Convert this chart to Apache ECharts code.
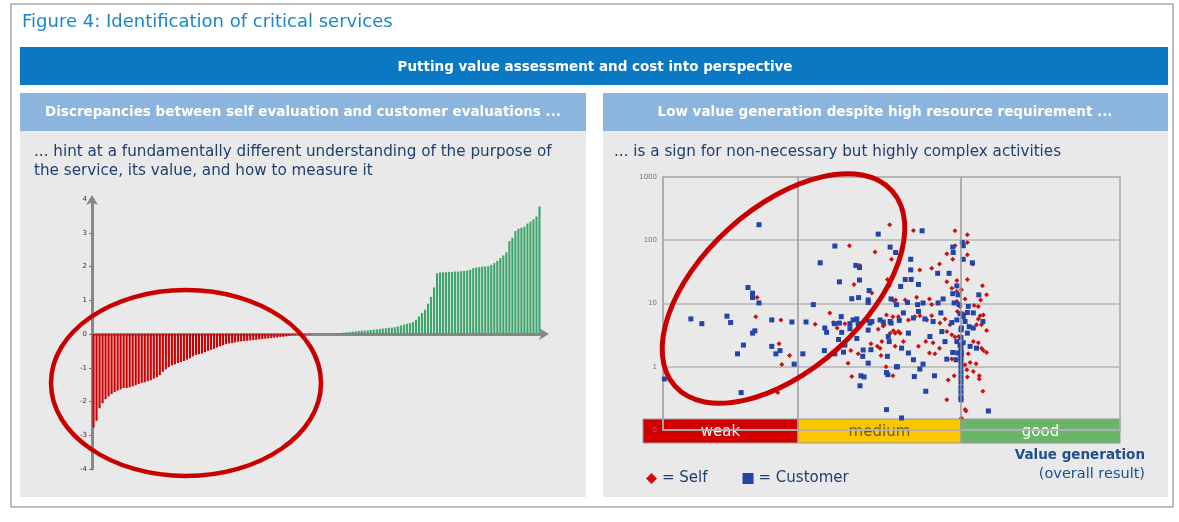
<!DOCTYPE html>
<html>
<head>
<meta charset="utf-8">
<script src="https://cdn.jsdelivr.net/npm/echarts@6/dist/echarts.min.js"></script>
<style>
html, body { margin: 0; padding: 0; background: #fff; }
#chart { width: 1179px; height: 522px; }
</style>
</head>
<body>
<div id="chart"></div>
<script>
// discrepancy (self minus customer) per service, sorted
var discrepancy = [
	-2.77, -2.57, -2.2, -2.05, -1.93, -1.85, -1.78, -1.72, -1.68, -1.64,
	-1.6, -1.6, -1.58, -1.55, -1.52, -1.48, -1.45, -1.43, -1.4, -1.37,
	-1.32, -1.28, -1.22, -1.12, -1.05, -0.98, -0.93, -0.9, -0.86, -0.83,
	-0.8, -0.76, -0.72, -0.66, -0.62, -0.6, -0.58, -0.54, -0.5, -0.47,
	-0.44, -0.4, -0.36, -0.33, -0.3, -0.28, -0.27, -0.25, -0.23, -0.22,
	-0.21, -0.2, -0.19, -0.18, -0.17, -0.16, -0.15, -0.14, -0.13, -0.12,
	-0.11, -0.1, -0.09, -0.08, -0.07, -0.05, -0.04,
	-0.03, -0.03, -0.02, -0.02, -0.01, -0.01, 0, 0, 0, 0.01, 0.01, 0.01, 0.02, 0.02, 0.03, 0.03,
	0.04, 0.05, 0.06, 0.07, 0.08, 0.09, 0.1, 0.1, 0.11, 0.12,
	0.13, 0.14, 0.15, 0.16, 0.17, 0.18, 0.19, 0.2, 0.22, 0.25,
	0.28, 0.3, 0.32, 0.35, 0.42, 0.52, 0.62, 0.72, 0.9, 1.1,
	1.38, 1.8, 1.82, 1.83, 1.83, 1.84, 1.84, 1.85, 1.85, 1.86,
	1.87, 1.88, 1.9, 1.95, 1.97, 1.98, 2.0, 2.0, 2.01, 2.05,
	2.1, 2.17, 2.25, 2.33, 2.42, 2.75, 2.85, 3.05, 3.12, 3.15,
	3.18, 3.27, 3.33, 3.4, 3.48, 3.78
];
var discrepancyTicks = ['-4', '-3', '-2', '-1', '0', '1', '2', '3', '4'];

// value generation (0-100) vs resource requirement (log)
var selfPoints = [
	[20.6,12.4],[20.3,6.2],[25.8,5.5],[25.4,2.3],[27.7,1.5],[26.0,1.09],[25.1,0.39],
	[49.6,176],[40.8,82],[46.4,65],[50.0,50],[43.1,40],[41.8,20],[49.1,24],[49.5,19],[45.7,14.6],
	[50.9,11.4],[36.5,7.1],[33.3,4.7],[37.3,5.0],[39.8,4.8],[38.1,4.1],[47.1,3.9],[48.4,4.6],
	[50.4,3.7],[51.5,3.6],[47.9,2.5],[46.9,2.1],[47.5,1.97],[45.5,2.3],[41.1,1.8],[42.7,1.6],
	[47.7,1.5],[40.5,1.14],[48.8,1.0],[41.3,0.7],[50.3,0.72],
	[54.8,143],[63.9,141],[66.6,122],[66.6,92],[63.9,82],[62.1,61],[63.4,50],[66.6,59],[67.8,42],
	[58.8,36],[60.5,42],[56.2,34],[62.1,22],[64.3,23],[66.6,24],[63.2,17.5],[65.3,16.5],[64.3,15.5],
	[69.9,19],[70.8,13.7],[69.5,11.4],[66.1,11.8],[64.3,10.8],[55.5,12.6],[58.3,11.8],[58.8,9.6],
	[53.0,11.4],[50.4,11.2],[65.0,9.0],[68.1,9.3],[69.0,9.0],[64.4,7.5],[65.7,6.9],[69.4,6.4],
	[70.1,6.6],[48.9,6.6],[50.3,6.2],[51.5,6.2],[55.1,6.2],[56.2,6.4],[58.8,6.4],[53.7,5.5],
	[57.7,5.5],[61.7,5.7],[60.6,4.9],[62.8,4.6],[69.0,5.7],[68.6,4.6],[69.7,4.6],[70.8,3.75],
	[48.2,4.4],[49.7,3.4],[50.8,3.4],[51.9,3.4],[62.1,3.6],[63.2,3.2],[63.9,2.95],[64.7,3.0],
	[67.9,2.5],[69.0,2.4],[69.7,1.97],[70.8,1.68],[70.1,1.8],[59.1,2.4],[57.5,2.5],[55.9,2.1],
	[60.5,1.97],[52.6,2.5],[50.8,2.1],[58.3,1.65],[59.5,1.6],[66.8,1.6],[67.2,1.17],[68.5,1.12],
	[63.2,1.32],[66.1,1.08],[66.5,0.9],[67.9,0.84],[69.2,0.72],[69.2,0.64],[63.7,0.72],[62.4,0.62],
	[66.6,0.69],[70.0,0.41],[62.1,0.3],[66.1,0.21],[66.3,0.2],[65.3,0.155]
];
var customerPoints = [
	[21.0,176],[18.6,17.9],[19.6,14.6],[19.6,12.4],[21.0,10.2],[6.1,5.7],[8.5,4.8],[14.0,6.3],
	[14.8,5.0],[20.1,3.7],[19.6,3.4],[17.6,2.2],[16.3,1.6],[23.8,5.5],[28.2,5.1],[23.8,2.1],
	[25.6,1.8],[24.7,1.6],[28.7,1.1],[0.3,0.64],[17.1,0.39],
	[47.1,125],[49.7,78],[50.9,64],[37.6,81],[34.4,44],[42.2,40],[43.0,37],[38.6,22],[43.0,23.5],
	[45.1,16],[41.3,11.9],[42.8,12.4],[44.9,11.4],[44.9,10.4],[49.9,11.8],[51.1,9.6],[32.9,9.6],
	[31.3,5.1],[35.4,4.1],[35.8,3.5],[39.0,6.2],[37.5,4.8],[38.6,4.9],[39.1,3.5],[40.9,4.8],
	[41.6,5.5],[42.4,5.7],[42.7,4.8],[40.9,4.0],[44.6,5.5],[45.3,4.9],[44.9,3.8],[45.7,5.2],
	[47.5,5.5],[48.2,5.1],[49.9,4.9],[51.7,5.4],[38.4,2.7],[39.8,2.2],[39.5,1.7],[37.6,1.6],
	[35.3,1.8],[30.6,1.6],[42.4,2.8],[43.8,1.84],[45.5,1.86],[43.7,1.46],[44.9,1.14],[49.3,3.0],
	[49.5,2.5],[49.1,1.46],[51.1,1.0],[48.9,0.81],[49.2,0.75],[43.3,0.72],[44.0,0.69],[43.1,0.5],
	[48.9,0.21],
	[56.7,141],[65.5,92],[65.7,82],[63.4,78],[63.5,64],[65.7,50],[67.7,44],[54.2,50],[54.2,34],
	[54.3,24],[53.0,24],[55.9,20],[52.0,18.6],[60.1,30],[62.6,30],[64.3,19],[63.4,14.3],[64.6,13.7],
	[69.1,13.7],[61.3,11.8],[60.2,10.2],[56.9,10.2],[55.7,9.6],[53.5,10.4],[63.7,10.2],[64.8,9.6],
	[66.8,9.0],[55.9,7.5],[52.6,7.1],[54.8,5.9],[57.3,5.7],[59.1,5.2],[60.8,7.1],[63.2,5.0],
	[64.3,5.5],[65.0,6.9],[65.7,6.2],[66.6,7.2],[67.9,7.1],[66.1,5.2],[67.0,4.3],[65.3,4.1],
	[66.6,3.4],[67.9,4.1],[70.0,5.2],[49.7,5.2],[53.7,3.4],[58.4,3.0],[61.0,3.6],[61.7,2.5],
	[64.3,2.5],[65.0,2.2],[65.7,2.4],[67.2,2.1],[68.6,1.97],[64.5,1.65],[65.3,1.65],[52.2,1.97],
	[53.7,1.65],[54.8,1.29],[56.9,1.1],[62.1,1.32],[63.4,1.68],[64.1,1.29],
	[65.2,1.2],[65.2,1.0],[65.2,0.83],[65.2,0.69],[65.2,0.58],[65.2,0.48],[65.2,0.4],[65.2,0.33],[65.2,0.3],
	[65.2,3.85],[65.2,2.9],[65.2,2.2],[65.2,1.86],[65.2,1.55],[65.2,1.4],
	[51.3,1.0],[56.2,0.92],[55.0,0.7],[59.4,0.72],[57.5,0.41],[71.2,0.2],[52.2,0.155]
];

// value generation bands
var bandNames = ['weak', 'medium', 'good'];
var bandFrom = [-4.4, 29.5, 65.2];
var bandTo = [29.5, 65.2, 100];
var bandBoundaries = [29.5, 65.2];

var bandColors = ['#d00000', '#fbc800', '#6ab56a'];
var bandTextColors = ['#ffffff', '#6b5a10', '#ffffff'];
var FONT = '"DejaVu Sans", Verdana, sans-serif';
var NAVY = '#1f3f6e';

var chart = echarts.init(document.getElementById('chart'));

function txt(x, y, text, size, color, opts) {
	opts = opts || {};
	var align = opts.align || 'left';
	return {
		type: 'text', x: x, y: y, z: 50,
		style: {
			text: text,
			fill: color,
			font: (opts.bold ? 'bold ' : '') + size + 'px ' + FONT,
			align: align, textAlign: align,
			verticalAlign: 'middle', textVerticalAlign: 'middle'
		}
	};
}

function box(x, y, w, h, fill, stroke) {
	return {
		type: 'rect', z: -20,
		shape: { x: x, y: y, width: w, height: h },
		style: { fill: fill, stroke: stroke || null, lineWidth: stroke ? 1.5 : 0 }
	};
}

var bandData = bandNames.map(function (n, i) {
	return [bandFrom[i], bandTo[i], i];
});

var option = {
	animation: false,
	backgroundColor: '#ffffff',
	graphic: [
		box(11, 4, 1162, 503, '#ffffff', '#a8a8a8'),
		box(20, 47, 1148, 38, '#0a78c2'),
		box(20, 93, 566, 38, '#8cb5de'),
		box(603, 93, 565, 38, '#8cb5de'),
		box(20, 131, 566, 366, '#e9e9e9'),
		box(603, 131, 565, 366, '#e9e9e9'),
		txt(22, 22, 'Figure 4: Identification of critical services', 18, '#1a86c7'),
		txt(595, 67, 'Putting value assessment and cost into perspective', 13.5, '#ffffff', { bold: true, align: 'center' }),
		txt(303, 112, 'Discrepancies between self evaluation and customer evaluations ...', 13.5, '#ffffff', { bold: true, align: 'center' }),
		txt(885, 112, 'Low value generation despite high resource requirement ...', 13.5, '#ffffff', { bold: true, align: 'center' }),
		txt(34, 152, '... hint at a fundamentally different understanding of the purpose of', 15.2, NAVY),
		txt(34, 171, 'the service, its value, and how to measure it', 15.2, NAVY),
		txt(614, 152, '... is a sign for non-necessary but highly complex activities', 15.2, NAVY),
		txt(1145, 455, 'Value generation', 13.5, '#1f4e8c', { bold: true, align: 'right' }),
		txt(1145, 474, '(overall result)', 14.5, '#1f4e8c', { align: 'right' }),
		{
			type: 'ellipse', x: 186, y: 383, z: 60,
			shape: { cx: 0, cy: 0, rx: 135, ry: 93 },
			style: { fill: null, stroke: '#c80000', lineWidth: 4.5 }
		},
		{
			type: 'ellipse', x: 783.5, y: 288.5, z: 60, rotation: 0.733,
			shape: { cx: 0, cy: 0, rx: 146, ry: 81 },
			style: { fill: null, stroke: '#c80000', lineWidth: 5 }
		}
	],
	legend: {
		data: [
			{ name: 'Self', icon: 'diamond' },
			{ name: 'Customer', icon: 'rect' }
		],
		left: 641, top: 466,
		itemWidth: 11, itemHeight: 11, itemGap: 35,
		formatter: '= {name}',
		textStyle: { color: NAVY, fontSize: 15, fontFamily: FONT }
	},
	grid: [
		{ left: 92, top: 199, width: 449, height: 270 },
		{ left: 663, top: 177, width: 457, height: 253, show: true, borderColor: '#aaaaaa', borderWidth: 1.5 },
		{ left: 643, top: 419, width: 477, height: 24 }
	],
	xAxis: [
		{
			gridIndex: 0, type: 'category',
			data: discrepancy.map(function (v, i) { return 'S' + (i + 1); }),
			axisLine: { onZero: true, symbol: ['none', 'arrow'], symbolSize: [9, 10], symbolOffset: [0, 8], lineStyle: { color: '#888888', width: 3 } },
			axisTick: { show: false }, axisLabel: { show: false }, splitLine: { show: false }
		},
		{
			gridIndex: 1, type: 'value', min: 0, max: 100,
			axisLine: { show: false }, axisTick: { show: false }, axisLabel: { show: false }, splitLine: { show: false }
		},
		{
			gridIndex: 2, type: 'value', min: -4.4, max: 100, show: false
		}
	],
	yAxis: [
		{
			gridIndex: 0, type: 'value', min: -4, max: 4, interval: 1,
			axisLine: { show: true, symbol: ['none', 'arrow'], symbolSize: [9, 10], symbolOffset: [0, 4], lineStyle: { color: '#888888', width: 3 } },
			axisTick: { show: true, length: 3, lineStyle: { color: '#777777' } },
			axisLabel: {
				fontSize: 7, color: '#333333', margin: 5, fontFamily: FONT,
				formatter: function (v) { return discrepancyTicks[v + 4]; }
			},
			splitLine: { show: false }
		},
		{
			gridIndex: 1, type: 'log', logBase: 10, min: 0.1, max: 1000,
			axisLine: { show: true, lineStyle: { color: '#aaaaaa', width: 1.5 } },
			axisTick: { show: false },
			axisLabel: {
				fontSize: 7, color: '#777777', margin: 6, fontFamily: FONT,
				formatter: function (v) { return v < 1 ? '0' : String(v); }
			},
			splitLine: { show: true, lineStyle: { color: '#b4b4b4', width: 1.5 } }
		},
		{
			gridIndex: 2, type: 'value', min: 0, max: 1, show: false
		}
	],
	series: [
		{
			name: 'Discrepancy', type: 'bar',
			xAxisIndex: 0, yAxisIndex: 0,
			barCategoryGap: '30%',
			data: discrepancy,
			itemStyle: {
				color: function (p) { return p.value < 0 ? '#cc0000' : '#3da56b'; }
			}
		},
		{
			name: 'Bands', type: 'custom',
			xAxisIndex: 2, yAxisIndex: 2, z: -1, silent: true,
			data: bandData,
			renderItem: function (params, api) {
				var p0 = api.coord([api.value(0), 1]);
				var p1 = api.coord([api.value(1), 0]);
				var i = api.value(2);
				return {
					type: 'group',
					children: [
						{
							type: 'rect',
							shape: { x: p0[0], y: p0[1], width: p1[0] - p0[0], height: p1[1] - p0[1] },
							style: { fill: bandColors[i], stroke: '#9a9a9a', lineWidth: 1 }
						},
						{
							type: 'text',
							x: (p0[0] + p1[0]) / 2, y: (p0[1] + p1[1]) / 2 + 1,
							style: {
								text: bandNames[i], fill: bandTextColors[i],
								font: '15px ' + FONT,
								align: 'center', verticalAlign: 'middle'
							}
						}
					]
				};
			}
		},
		{
			name: 'Boundaries', type: 'scatter',
			xAxisIndex: 1, yAxisIndex: 1, z: 1, data: [],
			markLine: {
				silent: true, symbol: 'none', label: { show: false },
				lineStyle: { color: '#9a9a9a', type: 'solid', width: 1.5 },
				data: bandBoundaries.map(function (v) { return { xAxis: v }; })
			}
		},
		{
			name: 'Self', type: 'scatter',
			xAxisIndex: 1, yAxisIndex: 1,
			symbol: 'diamond', symbolSize: 5,
			itemStyle: { color: '#cc1010', opacity: 1 },
			data: selfPoints
		},
		{
			name: 'Customer', type: 'scatter',
			xAxisIndex: 1, yAxisIndex: 1,
			symbol: 'rect', symbolSize: 5,
			itemStyle: { color: '#2445a8', opacity: 1 },
			data: customerPoints
		}
	]
};

chart.setOption(option);
</script>
</body>
</html>
